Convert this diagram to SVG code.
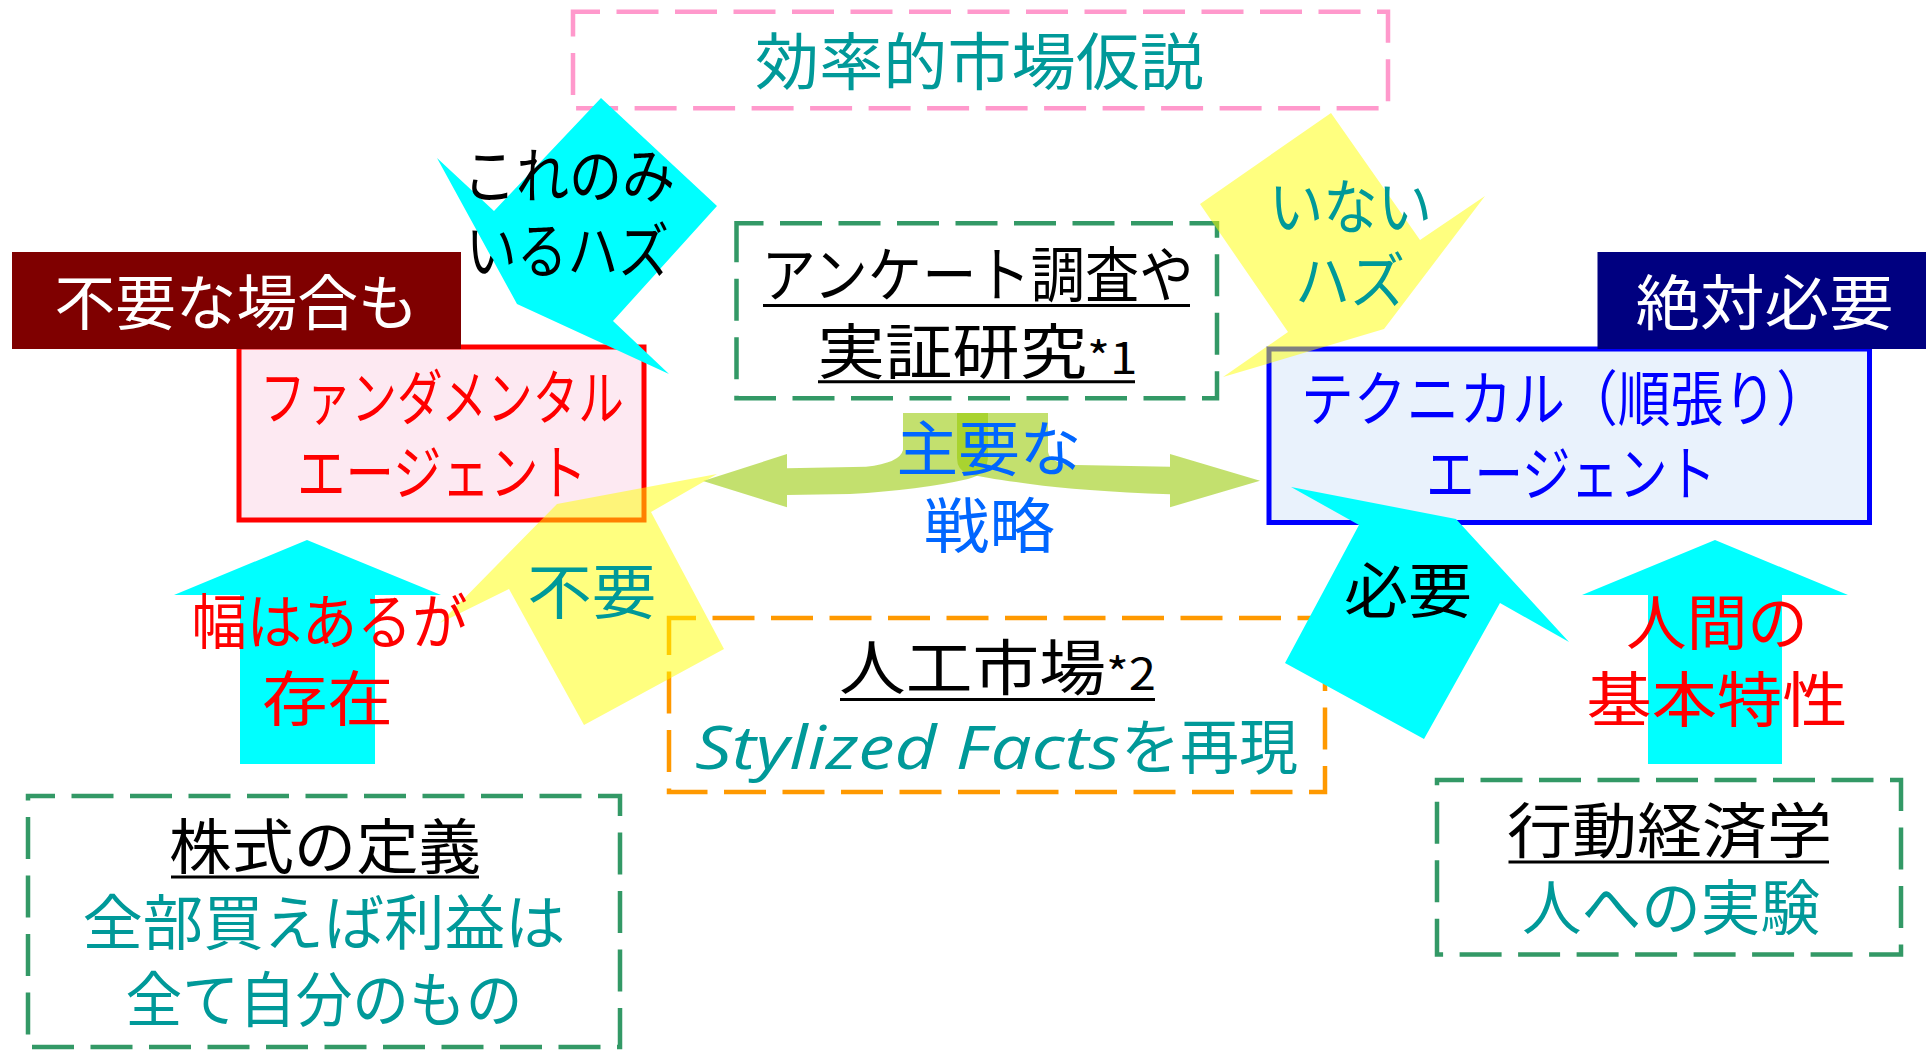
<svg xmlns="http://www.w3.org/2000/svg" width="1926" height="1051" viewBox="0 0 1926 1051">
<style>
text { font-family: "Noto Sans CJK JP", "Noto Sans", sans-serif; font-size: 60px; }
.c { text-anchor: middle; }
.teal { fill: #009999; }
.red { fill: #FF0000; }
.blue { fill: #0000FF; }
.sky { fill: #0066FF; }
.white { fill: #FFFFFF; }
.black { fill: #000000; }
.dash { fill: none; stroke-width: 4.5; stroke-dasharray: 42 16.5; stroke-dashoffset: 15; }
.ul { stroke: #000000; stroke-width: 3; }
.cyan { fill: #00FFFF; }
.yel { fill: #FFFF00; fill-opacity: 0.5; }
.grn { fill: #96C800; fill-opacity: 0.57; }
.sm { font-size: 44px; }
</style>
<rect width="1926" height="1051" fill="#FFFFFF"/>

<g id="efficient-market-hypothesis">
  <rect class="dash" x="573" y="11.7" width="815" height="96.6" stroke="#FF99CC"/>
  <text class="c teal" x="979.5" y="85" style="font-size:62px" textLength="449" lengthAdjust="spacingAndGlyphs">効率的市場仮説</text>
</g>

<g id="survey-research">
  <rect class="dash" x="736.5" y="223.3" width="480.5" height="175" stroke="#339966"/>
  <text class="c black"><tspan x="977.5" y="296.5" textLength="432" lengthAdjust="spacingAndGlyphs">アンケート調査や</tspan><tspan x="977.5" y="373.5" textLength="320" lengthAdjust="spacingAndGlyphs">実証研究<tspan class="sm">*1</tspan></tspan></text>
  <line class="ul" x1="763" y1="305.5" x2="1190" y2="305.5"/>
  <line class="ul" x1="818" y1="381.7" x2="1135" y2="381.7"/>
</g>

<g id="fundamental-agent">
  <rect x="239" y="347" width="405" height="173" fill="#FDE9F2" stroke="#FF0000" stroke-width="5"/>
  <text class="c red"><tspan x="442" y="420.3" textLength="364" lengthAdjust="spacingAndGlyphs">ファンダメンタル</tspan><tspan x="442" y="495.3" textLength="290" lengthAdjust="spacingAndGlyphs">エージェント</tspan></text>
</g>

<g id="label-sometimes-unneeded">
  <rect x="12" y="252" width="449" height="97" fill="#7F0000"/>
  <text class="c white" x="236.5" y="325.3" textLength="364" lengthAdjust="spacingAndGlyphs">不要な場合も</text>
</g>

<g id="technical-agent">
  <rect x="1269" y="349" width="600.5" height="173.5" fill="#E9F2FC" stroke="#0000FF" stroke-width="5"/>
  <text class="blue"><tspan x="1301" y="420.8" textLength="528" lengthAdjust="spacingAndGlyphs">テクニカル（順張り）</tspan><tspan class="c" x="1571" y="495.8" textLength="290" lengthAdjust="spacingAndGlyphs">エージェント</tspan></text>
</g>

<g id="label-absolutely-needed">
  <rect x="1597.5" y="252" width="328.5" height="97" fill="#000080"/>
  <text class="c white" x="1764.5" y="324.6" textLength="258" lengthAdjust="spacingAndGlyphs">絶対必要</text>
</g>

<g id="artificial-market">
  <rect class="dash" x="669" y="618" width="656" height="174" stroke="#FF9900"/>
  <text class="black"><tspan class="c" x="997.5" y="689.8" textLength="317" lengthAdjust="spacingAndGlyphs">人工市場<tspan class="sm">*2</tspan></tspan><tspan class="teal" x="695" y="769" style="font-family:'Open Sans','Noto Sans',sans-serif;font-style:italic" textLength="425" lengthAdjust="spacingAndGlyphs">Stylized Facts</tspan><tspan class="teal" x="1121" y="768.8" textLength="177" lengthAdjust="spacingAndGlyphs">を再現</tspan></text>
  <line class="ul" x1="840" y1="699.5" x2="1155" y2="699.5"/>
</g>

<g id="stock-definition">
  <rect class="dash" x="28" y="796" width="592" height="251" stroke="#339966"/>
  <text class="c"><tspan class="black" x="325" y="868.8" textLength="312" lengthAdjust="spacingAndGlyphs">株式の定義</tspan><tspan class="teal" x="324" y="944.8" textLength="483" lengthAdjust="spacingAndGlyphs">全部買えば利益は</tspan><tspan class="teal" x="324" y="1021.8" textLength="397" lengthAdjust="spacingAndGlyphs">全て自分のもの</tspan></text>
  <line class="ul" x1="171" y1="877" x2="479" y2="877"/>
</g>

<g id="behavioral-economics">
  <rect class="dash" x="1437" y="780" width="464" height="174.6" stroke="#339966"/>
  <text class="c"><tspan class="black" x="1669.4" y="852.6" textLength="325" lengthAdjust="spacingAndGlyphs">行動経済学</tspan><tspan class="teal" x="1671" y="929.8" textLength="298" lengthAdjust="spacingAndGlyphs">人への実験</tspan></text>
  <line class="ul" x1="1508.5" y1="862" x2="1829" y2="862"/>
</g>

<g id="connectors">
  <path class="grn" d="M903,413 H988 V456 Q988,474 968,479 Q920,490 850,494 L787,495 L787,507.3 L703,481 L787,454 L787,468.3 L866,466.7 Q900,463 903,450 Z"/>
  <path class="grn" d="M957,413 H1048 V452 Q1050,464 1077,465 L1170,466.7 L1170,454 L1260,480.7 L1170,507.3 L1170,494.3 Q1080,491 1030,484 Q985,478 968,474 Q957,470 957,458 Z"/>
  <polygon class="cyan" points="307,540 441,595 375,595 375,764 240,764 240,595 174,595"/>
  <polygon class="cyan" points="1715,540 1848,595 1782,595 1782,764 1648,764 1648,595 1582,595"/>
  <polygon class="cyan" points="601,98 717,206 613,321 669,374 517,304 437,158 494,211"/>
  <polygon class="cyan" points="1291,487 1456,519 1569,642 1500,603 1424,739 1285,663 1359,525"/>
  <polygon class="yel" points="1331,113 1420,240 1485,196 1384,329 1223,377 1288,332 1200,204"/>
  <polygon class="yel" points="717,474 651,512 724,649 584,725 509,589 440,623 557,504"/>
</g>

<g id="connector-labels">
  <text class="c sky"><tspan x="989" y="471.1" textLength="185" lengthAdjust="spacingAndGlyphs">主要な</tspan><tspan x="989.2" y="547.8" textLength="131" lengthAdjust="spacingAndGlyphs">戦略</tspan></text>
  <text class="c black"><tspan x="569" y="197.5" textLength="212" lengthAdjust="spacingAndGlyphs">これのみ</tspan><tspan x="567.5" y="273" textLength="203" lengthAdjust="spacingAndGlyphs">いるハズ</tspan></text>
  <text class="c teal"><tspan x="1350.5" y="228.6" textLength="163" lengthAdjust="spacingAndGlyphs">いない</tspan><tspan x="1350" y="302.8" textLength="110" lengthAdjust="spacingAndGlyphs">ハズ</tspan></text>
  <text class="c teal" x="591.7" y="613.6" textLength="129" lengthAdjust="spacingAndGlyphs">不要</text>
  <text class="c black" x="1408" y="612.8" textLength="128" lengthAdjust="spacingAndGlyphs">必要</text>
  <text class="c red"><tspan x="329.5" y="643.8" textLength="276" lengthAdjust="spacingAndGlyphs">幅はあるが</tspan><tspan x="327.5" y="720.8" textLength="131" lengthAdjust="spacingAndGlyphs">存在</tspan></text>
  <text class="c red"><tspan x="1717" y="644.8" textLength="182" lengthAdjust="spacingAndGlyphs">人間の</tspan><tspan x="1717" y="721.8" textLength="261" lengthAdjust="spacingAndGlyphs">基本特性</tspan></text>
</g>
</svg>
